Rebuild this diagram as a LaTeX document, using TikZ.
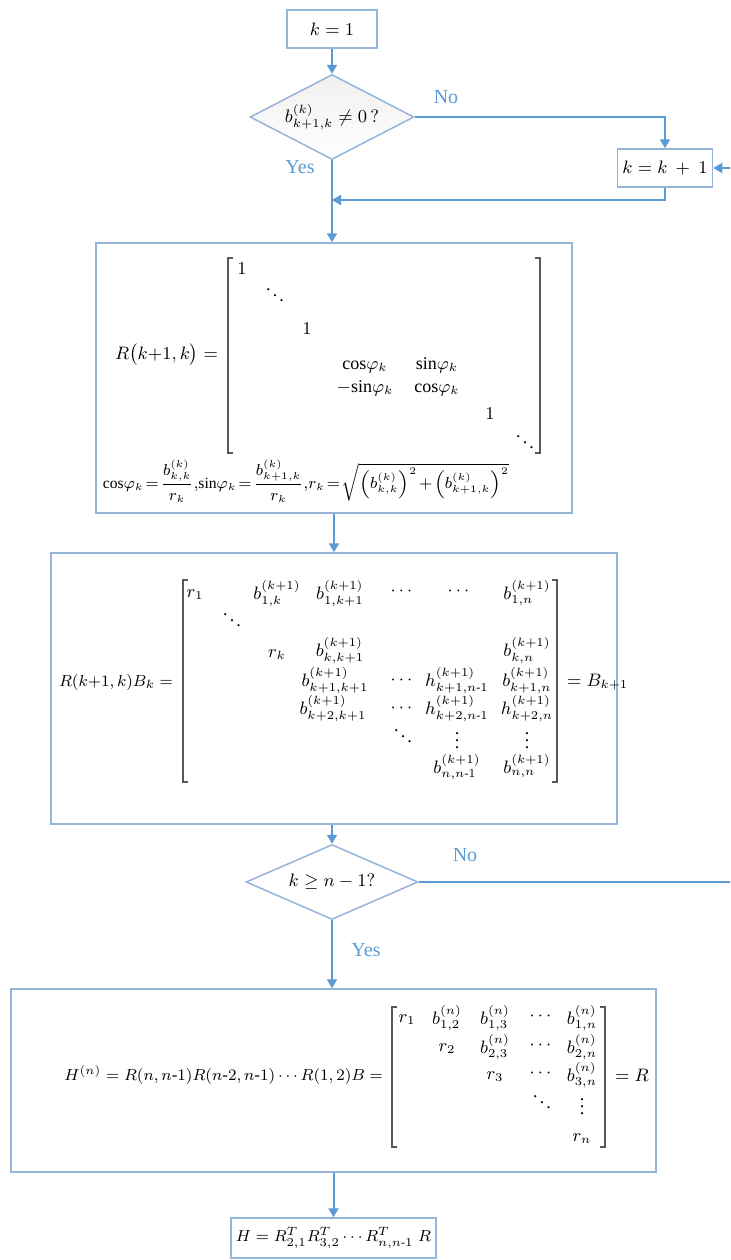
\documentclass[tikz,border=0pt]{standalone}
\usepackage{amsmath}
\usepackage{fontspec}
\setmainfont{Liberation Serif}
\usepackage{tikz}
\usetikzlibrary{shapes.geometric,arrows.meta}
\definecolor{flowblue}{RGB}{91,155,213}
\definecolor{boxblue}{RGB}{150,180,215}
\newcommand{\vdts}{\vbox{\baselineskip=3.3pt\lineskiplimit=0pt\hbox{.}\hbox{.}\hbox{.}}}
\newcommand{\ddts}{\mathinner{\raise6.4pt\hbox{.}\mkern2mu\raise3.5pt\hbox{.}\mkern2mu\raise0.6pt\hbox{.}}}

\begin{document}
\begin{tikzpicture}[x=0.5pt,y=-0.5pt,font=\fontsize{9}{11}\selectfont,
    procbox/.style={draw=boxblue,line width=0.75pt,fill=white,inner sep=0pt},
    decision/.style={diamond,draw=boxblue,line width=0.75pt,inner sep=0pt},
    flow/.style={draw=flowblue,line width=1pt,-{Triangle[width=5pt,length=4.5pt]}},
    answer/.style={text=flowblue,font=\fontsize{10}{12}\selectfont},
    ent/.style={anchor=base,inner sep=0pt},
    brk/.style={draw=black!65,line width=0.6pt}]
    \useasboundingbox (0,0) rectangle (730,1260);
    \clip (0,0) rectangle (730,1260);
    % steps of the loop
    \node[procbox,minimum width=45pt,minimum height=19pt] (init) at (332,29) {$k=1$};
    \node[decision,aspect=1.93,minimum width=82pt,minimum height=42.5pt,top color=black!6,bottom color=white] (nonzero) at (332,117) {$b^{(k)}_{k+1,k}\neq 0\,?$};
    \node[procbox,minimum width=47.5pt,minimum height=19pt] (incr) at (665,168) {$k=k\:+\:1$};
    \node[procbox,minimum width=238pt,minimum height=135pt] (rotbox) at (334,378) {};
    \node[procbox,minimum width=283pt,minimum height=135.5pt] (prodbox) at (334,688.5) {};
    \node[decision,aspect=2.3,minimum width=86pt,minimum height=37.5pt,fill=white] (last) at (332,882) {$k\geq n-1?$};
    \node[procbox,minimum width=322.5pt,minimum height=91.5pt] (hbox) at (333.5,1080.5) {};
    \node[procbox,minimum width=102.5pt,minimum height=20pt,font=\fontsize{8.5}{10}\selectfont] (result) at (333.5,1238) {$H=R^T_{2,1}R^T_{3,2}\cdots R^T_{n,n\text{-}1}\;R$};
    \coordinate (merge) at (332,200);
    \coordinate (wrap) at (760,168);
    % connectors
    \draw[flow] (init) -- (nonzero);
    \draw[flow] (nonzero.south) -- (nonzero.south |- rotbox.north);
    \draw[flow] (nonzero.east) -| (incr.north);
    \draw[flow] (incr.south) |- (merge);
    \draw[flow] (rotbox.south) -- (rotbox.south |- prodbox.north);
    \draw[flow] (last.north |- prodbox.south) -- (last.north);
    \draw[flow] (last.south) -- (last.south |- hbox.north);
    \draw[flow] (last.east) -| (wrap) -- (incr.east);
    \draw[flow] (hbox.south) -- (result.north);
    \node[answer] (no1) at (446,97) {No};
    \node[answer] (yes1) at (300,167) {Yes};
    \node[answer] (no2) at (465,855) {No};
    \node[answer] (yes2) at (366,950) {Yes};
    % rotation matrix
    \node[anchor=east] (rlhs) at (225,355) {$R\bigl(k{+}1,k\bigr)=$};
    \foreach \x/\y/\e [count=\i] in {242/274/1, 275/303/\ddts, 307/334/1,
        365/369/\mathrm{cos}\varphi_k, 437/369/\mathrm{sin}\varphi_k, 365/392/-\mathrm{sin}\varphi_k,
        437/392/\mathrm{cos}\varphi_k, 490/419/1, 525/450/\ddts}
        \node[ent] (rot\i) at (\x,\y) {$\e$};
    \draw[brk] (233,258) -- (228,258) -- (228,453) -- (233,453);
    \draw[brk] (535,258) -- (540,258) -- (540,453) -- (535,453);
    \node[font=\fontsize{7.8}{10}\selectfont] (rdef) at (306,481) {\thickmuskip=2mu\medmuskip=2mu$\mathrm{cos}\varphi_k=\dfrac{b^{(k)}_{k,k}}{r_k}{,}\mathrm{sin}\varphi_k=\dfrac{b^{(k)}_{k+1,k}}{r_k}{,}r_k=\sqrt{\Bigl(b^{(k)}_{k,k}\Bigr)^2+\Bigl(b^{(k)}_{k+1,k}\Bigr)^2}$};
    % product R(k+1,k)B_k
    \node[anchor=east,font=\fontsize{8.5}{10}\selectfont] (blhs) at (180,682) {$R(k{+}1,k)B_k=$};
    \foreach \x/\y/\e [count=\i] in {195/597/r_1, 277/599/{b^{(k+1)}_{1,k}},
        340/599/{b^{(k+1)}_{1,k+1}}, 403/595/\cdots, 460/595/\cdots,
        527/599/{b^{(k+1)}_{1,n}}, 232/628/\ddts, 277/657/r_k,
        340/656/{b^{(k+1)}_{k,k+1}}, 527/656/{b^{(k+1)}_{k,n}},
        335/686/{b^{(k+1)}_{k+1,k+1}}, 403/684/\cdots, 457/686/{h^{(k+1)}_{k+1,n\text{-}1}},
        527/686/{b^{(k+1)}_{k+1,n}}, 333/714/{b^{(k+1)}_{k+2,k+1}}, 403/712/\cdots,
        457/714/{h^{(k+1)}_{k+2,n\text{-}1}}, 527/714/{h^{(k+1)}_{k+2,n}},
        403/744/\ddts, 457/748/\vdts, 527/748/\vdts,
        457/773/{b^{(k+1)}_{n,n\text{-}1}}, 527/773/{b^{(k+1)}_{n,n}}}
        \node[ent] (bm\i) at (\x,\y) {$\e$};
    \draw[brk] (188,580) -- (183,580) -- (183,782) -- (188,782);
    \draw[brk] (552,580) -- (557,580) -- (557,782) -- (552,782);
    \node[anchor=west] (brhs) at (560,682) {$=B_{k+1}$};
    % final triangular form
    \node[anchor=east,font=\fontsize{8.5}{10}\selectfont] (hlhs) at (390,1075) {$H^{(n)}=R(n,n\text{-}1)R(n\text{-}2,n\text{-}1)\cdots R(1,2)B=$};
    \foreach \x/\y/\e [count=\i] in {407/1022/r_1, 447/1024/{b^{(n)}_{1,2}},
        495/1024/{b^{(n)}_{1,3}}, 542/1020/\cdots, 582/1024/{b^{(n)}_{1,n}},
        447/1051/r_2, 495/1053/{b^{(n)}_{2,3}}, 542/1049/\cdots, 582/1053/{b^{(n)}_{2,n}},
        495/1079/r_3, 542/1077/\cdots, 582/1081/{b^{(n)}_{3,n}},
        542/1110/\ddts, 582/1114/\vdts, 582/1141/r_n}
        \node[ent] (hm\i) at (\x,\y) {$\e$};
    \draw[brk] (397,1007) -- (392,1007) -- (392,1147) -- (397,1147);
    \draw[brk] (600,1007) -- (605,1007) -- (605,1147) -- (600,1147);
    \node[anchor=west] (hrhs) at (608,1075) {$=R$};
\end{tikzpicture}
\end{document}
